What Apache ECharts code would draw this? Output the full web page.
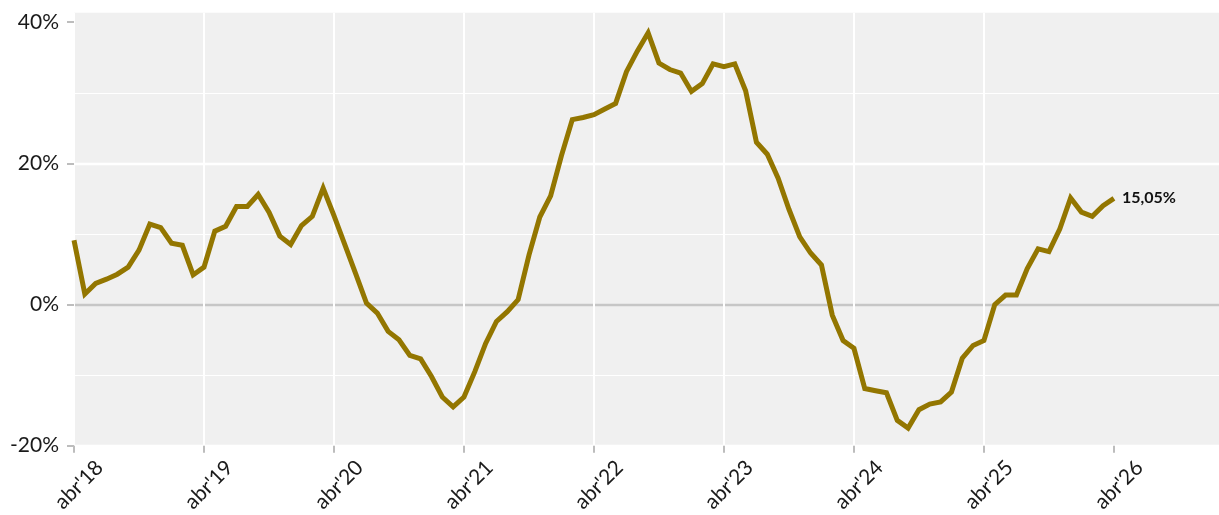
<!DOCTYPE html>
<html>
<head>
<meta charset="utf-8">
<script src="https://cdn.jsdelivr.net/npm/echarts@6/dist/echarts.min.js"></script>
<style>
html,body{margin:0;padding:0;background:#fff;}
#c{width:1219px;height:515px;}
</style>
</head>
<body>
<div id="c"></div>
<script>
// Monthly series starting abr'18 (index 0 = April 2018)
const values = [
  9.1, 1.5, 3.0, 3.6, 4.3, 5.3, 7.7, 11.4, 10.9, 8.7, 8.4, 4.2,
  5.3, 10.4, 11.1, 13.9, 13.9, 15.6, 13.1, 9.7, 8.5, 11.2, 12.5, 16.5,
  12.6, 8.5, 4.4, 0.2, -1.2, -3.8, -5.0, -7.2, -7.7, -10.2, -13.1, -14.5,
  -13.1, -9.5, -5.5, -2.4, -1.0, 0.7, 7.0, 12.4, 15.4, 21.1, 26.2, 26.5,
  26.9, 27.7, 28.5, 33.0, 35.9, 38.5, 34.2, 33.3, 32.8, 30.2, 31.3, 34.1,
  33.7, 34.1, 30.3, 23.0, 21.3, 17.9, 13.5, 9.6, 7.3, 5.6, -1.5, -5.1,
  -6.2, -11.9, -12.2, -12.5, -16.4, -17.5, -14.9, -14.1, -13.8, -12.4, -7.6, -5.8,
  -5.1, 0.0, 1.35, 1.35, 5.1, 7.9, 7.5, 10.7, 15.1, 13.1, 12.5, 14.0,
  15.05
];
const yTicks = [-20, 0, 20, 40];
const xTicks = [0, 12, 24, 36, 48, 60, 72, 84, 96];
const xTickLabels = ["abr'18","abr'19","abr'20","abr'21","abr'22","abr'23","abr'24","abr'25","abr'26"];

const data = values.map((v, i) => [i, v]);
const font = 'Lato, "Open Sans", sans-serif';

const chart = echarts.init(document.getElementById('c'), null, {renderer: 'canvas'});
chart.setOption({
  animation: false,
  backgroundColor: '#ffffff',
  grid: {
    left: 74, right: 0, top: 12.7, bottom: 66.7,
    show: true, backgroundColor: '#F0F0F0', borderWidth: 0,
    containLabel: false
  },
  xAxis: {
    type: 'value', min: 0, max: 105.7, interval: 12,
    position: 'bottom',
    axisLine: {show: false, onZero: false},
    axisTick: {show: true, length: 7, lineStyle: {color: '#BDBDBD', width: 2}, customValues: xTicks},
    axisLabel: {
      customValues: xTicks,
      rotate: 45, align: 'center', verticalAlign: 'middle',
      margin: 44, padding: [0, 0, 0, 14],
      fontFamily: font, fontSize: 21, color: '#1a1a1a',
      formatter: v => xTickLabels[xTicks.indexOf(Math.round(v))] || ''
    },
    splitLine: {show: true, showMaxLine: false, lineStyle: {color: '#ffffff', width: 2}}
  },
  yAxis: [{
    type: 'value', min: -20, max: 41.35, interval: 20,
    axisLine: {show: false, onZero: false},
    axisTick: {show: true, length: 7, lineStyle: {color: '#BDBDBD', width: 2}, customValues: yTicks},
    axisLabel: {
      customValues: yTicks,
      margin: 15, fontFamily: font, fontSize: 21, color: '#1a1a1a',
      formatter: v => Math.round(v) + '%'
    },
    splitLine: {show: true, showMaxLine: false, lineStyle: {color: ['#ffffff', '#C6C6C6', '#ffffff', '#ffffff'], width: 2.4}}
  }, {
    type: 'value', min: -20, max: 41.35, interval: 10, position: 'left',
    axisLine: {show: false, onZero: false}, axisTick: {show: false}, axisLabel: {show: false},
    splitLine: {show: true, showMaxLine: false, lineStyle: {color: ['rgba(0,0,0,0)', '#ffffff'], width: 1.2}}
  }],
  series: [{
    type: 'line',
    yAxisIndex: 0,
    data: data,
    showSymbol: false,
    symbol: 'none',
    lineStyle: {color: '#937600', width: 5, join: 'miter'},
    itemStyle: {color: '#937600'},
    z: 5,
    endLabel: {
      show: true, distance: 8,
      fontFamily: font, fontSize: 16, fontWeight: 'bold', color: '#111',
      formatter: p => p.value[1].toFixed(2).replace('.', ',') + '%'
    }
  }]
});
</script>
</body>
</html>
